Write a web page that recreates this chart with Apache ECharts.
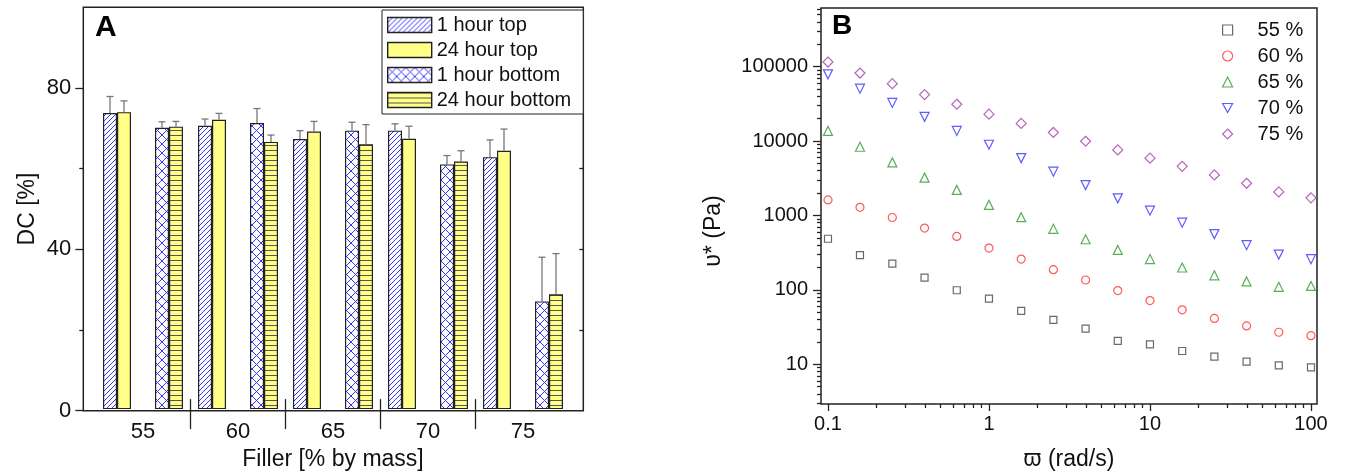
<!DOCTYPE html>
<html>
<head>
<meta charset="utf-8">
<script src="https://cdn.jsdelivr.net/npm/echarts@6/dist/echarts.min.js"></script>
<style>
  html, body { margin: 0; padding: 0; background: #fff; }
  #main { width: 1346px; height: 476px; }
</style>
</head>
<body>
<div id="main"></div>
<script>
// ---- panel A data ----
var fillers = ['55', '60', '65', '70', '75'];
var top1h = [73.7, 70.5, 67.2, 69.3, 62.7];
var top1hErr = [4.1, 1.7, 2.1, 1.7, 4.3];
var top24h = [73.9, 72.0, 69.1, 67.3, 64.3];
var top24hErr = [2.8, 1.6, 2.5, 3.1, 5.4];
var bot1h = [70.0, 71.2, 69.3, 60.9, 26.8];
var bot1hErr = [1.5, 3.6, 2.1, 2.2, 11.0];
var bot24h = [70.3, 66.5, 65.9, 61.6, 28.6];
var bot24hErr = [1.3, 1.7, 4.9, 2.7, 10.1];
var dcTicks = [0, 40, 80];
var dcMinor = [20, 60];

// ---- panel B data ----
var omega = [0.1, 0.158, 0.251, 0.398, 0.631, 1, 1.585, 2.512, 3.981, 6.31, 10, 15.85, 25.12, 39.81, 63.1, 100];
var eta55 = [487, 294, 226, 146, 99, 76.5, 52.4, 39.7, 30.1, 20.7, 18.6, 15.1, 12.7, 10.9, 9.7, 9.1];
var eta60 = [1620, 1290, 940, 677, 523, 365, 260, 187, 136, 98, 72, 54, 41.4, 32.8, 27, 24.3];
var eta65 = [13700, 8400, 5180, 3230, 2210, 1390, 950, 663, 480, 345, 260, 200, 157, 130, 110, 113];
var eta70 = [78900, 50700, 32600, 21200, 13700, 8930, 5920, 3880, 2560, 1700, 1160, 802, 563, 399, 298, 259];
var eta75 = [115500, 82200, 59200, 42200, 31300, 23000, 17300, 13070, 9950, 7610, 5900, 4580, 3510, 2710, 2075, 1730];
var omegaTicks = [0.1, 1, 10, 100];
var etaTicks = [10, 100, 1000, 10000, 100000];

var FONT = 'Liberation Sans, Arial, DejaVu Sans, sans-serif';
var BAR_W = 14, MID_GAP = 24;
var barOffsets = [-(MID_GAP / 2 + BAR_W * 1.5), -(MID_GAP / 2 + BAR_W * 0.5), MID_GAP / 2 + BAR_W * 0.5, MID_GAP / 2 + BAR_W * 1.5];

function minorLog(decades, lo, hi) {
  var out = [];
  decades.forEach(function (d) {
    for (var m = 2; m <= 9; m++) {
      var v = +(m * d).toPrecision(3);
      if (v >= lo && v <= hi) out.push(v);
    }
  });
  return out;
}

function makePattern(w, h, bg, draw) {
  var cv = document.createElement('canvas');
  cv.width = w; cv.height = h;
  var ctx = cv.getContext('2d');
  ctx.fillStyle = bg;
  ctx.fillRect(0, 0, w, h);
  draw(ctx, w, h);
  return { image: cv, repeat: 'repeat' };
}

var hatchBlue = makePattern(5, 5, '#ffffff', function (ctx, w, h) {
  ctx.strokeStyle = '#3535ff'; ctx.lineWidth = 1;
  ctx.beginPath();
  ctx.moveTo(0, h); ctx.lineTo(w, 0);
  ctx.moveTo(-1, 1); ctx.lineTo(1, -1);
  ctx.moveTo(w - 1, h + 1); ctx.lineTo(w + 1, h - 1);
  ctx.stroke();
});
var crossBlue = makePattern(9, 9, '#ffffff', function (ctx, w, h) {
  ctx.strokeStyle = '#3535ff'; ctx.lineWidth = 1;
  ctx.beginPath();
  ctx.moveTo(0, 0); ctx.lineTo(w, h);
  ctx.moveTo(0, h); ctx.lineTo(w, 0);
  ctx.stroke();
});
var linesYellow = makePattern(4, 5, '#ffff88', function (ctx, w, h) {
  ctx.strokeStyle = '#555'; ctx.lineWidth = 1;
  ctx.beginPath();
  ctx.moveTo(0, 0.5); ctx.lineTo(w, 0.5);
  ctx.stroke();
});

var barStyle = function (c) { return { color: c, borderColor: '#222', borderWidth: 1.2 }; };

var errData = [];
[[top1h, top1hErr], [top24h, top24hErr], [bot1h, bot1hErr], [bot24h, bot24hErr]].forEach(function (p, k) {
  p[0].forEach(function (v, i) { errData.push([i, v, p[1][i], barOffsets[k]]); });
});

function renderErr(params, api) {
  var base = api.coord([api.value(0), api.value(1)]);
  var tip = api.coord([api.value(0), api.value(1) + api.value(2)]);
  var x = base[0] + api.value(3);
  var st = { stroke: '#777', lineWidth: 1.3 };
  return { type: 'group', children: [
    { type: 'line', shape: { x1: x, y1: base[1], x2: x, y2: tip[1] }, style: st },
    { type: 'line', shape: { x1: x - 3.5, y1: tip[1], x2: x + 3.5, y2: tip[1] }, style: st }
  ] };
}

var tickLine = { color: '#222', width: 1.3 };
var noLine = { show: false };
var downTri = 'path://M0,0 L10,0 L5,9 Z';

var scatterSeries = [
  ['55 %', eta55, 'rect', 7, '#444444'],
  ['60 %', eta60, 'circle', 8, '#ff3030'],
  ['65 %', eta65, 'triangle', 9, '#2f9a2f'],
  ['70 %', eta70, downTri, 9, '#3333ff'],
  ['75 %', eta75, 'diamond', 10, '#a040a8']
].map(function (s) {
  return {
    name: s[0], type: 'scatter', xAxisIndex: 4, yAxisIndex: 4,
    symbol: s[2], symbolSize: s[3],
    itemStyle: { color: 'rgba(255,255,255,0)', borderColor: s[4], borderWidth: 1.2 },
    data: omega.map(function (w, i) { return [w, s[1][i]]; })
  };
});

var chart = echarts.init(document.getElementById('main'));
chart.setOption({
  animation: false,
  textStyle: { fontFamily: FONT },
  title: [
    { text: 'A', left: 95, top: 13, padding: 0, textStyle: { fontSize: 30, fontWeight: 'bold', color: '#000', fontFamily: FONT } },
    { text: 'B', left: 832, top: 12, padding: 0, textStyle: { fontSize: 28, fontWeight: 'bold', color: '#000', fontFamily: FONT } }
  ],
  legend: [
    {
      data: ['1 hour top', '24 hour top', '1 hour bottom', '24 hour bottom'],
      orient: 'vertical', left: 382, top: 10, icon: 'rect',
      itemWidth: 44, itemHeight: 15, itemGap: 5, padding: [5, 12, 4, 5],
      backgroundColor: '#fff', borderColor: '#222', borderWidth: 1,
      selectedMode: false,
      itemStyle: { borderColor: '#222', borderWidth: 1.4 },
      textStyle: { fontSize: 20, color: '#111', fontFamily: FONT }
    },
    {
      data: ['55 %', '60 %', '65 %', '70 %', '75 %'],
      orient: 'vertical', left: 1217, top: 15,
      itemWidth: 10, itemHeight: 10, itemGap: 6,
      selectedMode: false,
      itemStyle: { borderWidth: 1.2 },
      textStyle: { fontSize: 20, color: '#111', fontFamily: FONT, padding: [0, 0, 0, 20] }
    }
  ],
  grid: [
    { left: 83.3, top: 7.3, width: 500, height: 403.4, show: true, borderColor: '#222', borderWidth: 1.5 },
    { left: 95.5, top: 7.3, width: 475, height: 403.4 },
    { left: 821, top: 8, width: 496, height: 396, show: true, borderColor: '#222', borderWidth: 1.5 }
  ],
  xAxis: [
    { gridIndex: 0, type: 'value', min: 0, max: 1, show: false },
    {
      gridIndex: 1, type: 'category', data: fillers, position: 'bottom',
      axisLine: noLine, axisTick: { show: false }, splitLine: { show: false },
      axisLabel: { fontSize: 22, color: '#111', margin: 12, fontFamily: FONT },
      name: 'Filler [% by mass]', nameLocation: 'middle', nameGap: 34,
      nameTextStyle: { fontSize: 23, color: '#111', fontFamily: FONT }
    },
    {
      gridIndex: 1, type: 'value', min: 0, max: 5, position: 'bottom',
      axisLine: noLine, axisLabel: { show: false }, splitLine: { show: false },
      axisTick: { show: true, customValues: [1, 2, 3, 4], length: 20, lineStyle: tickLine }
    },
    {
      gridIndex: 1, type: 'value', min: 0, max: 5, position: 'bottom',
      axisLine: noLine, axisLabel: { show: false }, splitLine: { show: false },
      axisTick: { show: true, inside: true, customValues: [1, 2, 3, 4], length: 10, lineStyle: tickLine }
    },
    {
      gridIndex: 2, type: 'log', logBase: 10, min: 0.0905, max: 109, position: 'bottom',
      axisLine: noLine, splitLine: { show: false },
      axisTick: { show: true, customValues: omegaTicks, length: 7, lineStyle: tickLine },
      axisLabel: { customValues: omegaTicks, fontSize: 20, color: '#111', margin: 10, fontFamily: FONT,
        formatter: function (v) { return String(v); } },
      name: 'ϖ (rad/s)', nameLocation: 'middle', nameGap: 44,
      nameTextStyle: { fontSize: 23, color: '#111', fontFamily: FONT }
    },
    {
      gridIndex: 2, type: 'log', logBase: 10, min: 0.0905, max: 109, position: 'bottom',
      axisLine: noLine, axisLabel: { show: false }, splitLine: { show: false },
      axisTick: { show: true, customValues: minorLog([0.1, 1, 10], 0.0905, 109), length: 4, lineStyle: tickLine }
    }
  ],
  yAxis: [
    {
      gridIndex: 0, type: 'value', min: 0, max: 100, position: 'left',
      axisLine: noLine, splitLine: { show: false },
      axisTick: { show: true, customValues: dcTicks, length: 8, lineStyle: tickLine },
      axisLabel: { customValues: dcTicks, fontSize: 22, color: '#111', margin: 12, fontFamily: FONT },
      name: 'DC [%]', nameLocation: 'middle', nameGap: 44,
      nameTextStyle: { fontSize: 23, color: '#111', fontFamily: FONT }
    },
    {
      gridIndex: 0, type: 'value', min: 0, max: 100, position: 'left',
      axisLine: noLine, splitLine: { show: false }, axisLabel: { show: false },
      axisTick: { show: true, customValues: dcMinor, length: 4, lineStyle: tickLine }
    },
    {
      gridIndex: 0, type: 'value', min: 0, max: 100, position: 'right',
      axisLine: noLine, splitLine: { show: false }, axisLabel: { show: false },
      axisTick: { show: true, inside: true, customValues: [20, 40, 60, 80], length: 4, lineStyle: tickLine }
    },
    { gridIndex: 1, type: 'value', min: 0, max: 100, show: false },
    {
      gridIndex: 2, type: 'log', logBase: 10, min: 2.93, max: 615000, position: 'left',
      axisLine: noLine, splitLine: { show: false },
      axisTick: { show: true, customValues: etaTicks, length: 8, lineStyle: tickLine },
      axisLabel: { customValues: etaTicks, fontSize: 20, color: '#111', margin: 13, fontFamily: FONT,
        formatter: function (v) { return String(v); } },
      name: 'υ* (Pa)', nameLocation: 'middle', nameGap: 96,
      nameTextStyle: { fontSize: 23, color: '#111', fontFamily: FONT, padding: [0, 50, 0, 0] }
    },
    {
      gridIndex: 2, type: 'log', logBase: 10, min: 2.93, max: 615000, position: 'left',
      axisLine: noLine, splitLine: { show: false }, axisLabel: { show: false },
      axisTick: { show: true, customValues: minorLog([1, 10, 100, 1000, 10000, 100000], 2.93, 615000), length: 4, lineStyle: tickLine }
    }
  ],
  series: [
    { name: '1 hour top', type: 'bar', xAxisIndex: 1, yAxisIndex: 3, barWidth: BAR_W, barGap: '0%', itemStyle: barStyle(hatchBlue), data: top1h },
    { name: '24 hour top', type: 'bar', xAxisIndex: 1, yAxisIndex: 3, barWidth: BAR_W, barGap: '0%', itemStyle: barStyle('#ffff88'), data: top24h },
    { name: 'gap', type: 'bar', xAxisIndex: 1, yAxisIndex: 3, barWidth: MID_GAP, barGap: '0%', data: fillers.map(function () { return '-'; }) },
    { name: '1 hour bottom', type: 'bar', xAxisIndex: 1, yAxisIndex: 3, barWidth: BAR_W, barGap: '0%', itemStyle: barStyle(crossBlue), data: bot1h },
    { name: '24 hour bottom', type: 'bar', xAxisIndex: 1, yAxisIndex: 3, barWidth: BAR_W, barGap: '0%', itemStyle: barStyle(linesYellow), data: bot24h },
    {
      name: 'error', type: 'custom', xAxisIndex: 1, yAxisIndex: 3, z: 3,
      encode: { x: 0, y: 1 }, renderItem: renderErr, data: errData
    }
  ].concat(scatterSeries)
});
</script>
</body>
</html>
